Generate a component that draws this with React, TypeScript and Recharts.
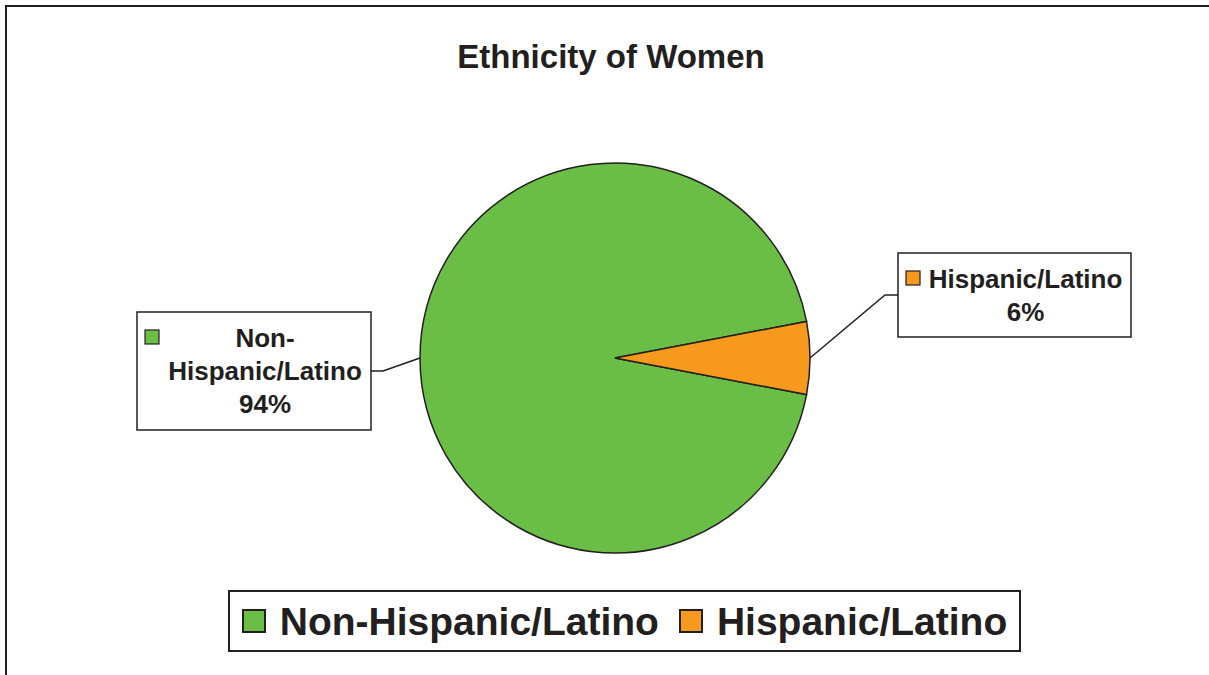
import React from 'react'
import { PieChart, Pie, Cell, Legend } from 'recharts'

const categories = ['Non-Hispanic/Latino', 'Hispanic/Latino']
const shares = [94, 6]
const sliceColors = ['#6ABD45', '#F7991C']

const chartTitle = 'Ethnicity of Women'

const INK = '#231F20'
const FONT = '"Liberation Sans", Arial, sans-serif'
const RAD = Math.PI / 180

// callout box placement, relative to the slice edge
const calloutLayout = [
  { side: 'left', elbow: [-37, 13], gap: 12, width: 234, height: 118 },
  { side: 'right', elbow: [75, -63], gap: 13, width: 233, height: 84 },
]

const data = categories.map((name, i) => ({ name, value: shares[i] }))
const total = shares.reduce((a, b) => a + b, 0)
// orange slice sits centred on 3 o'clock
const startAngle = (shares[1] / total) * 180

function wrapName(name: string) {
  if (name.length > 16 && name.includes('-')) {
    const k = name.indexOf('-') + 1
    return [name.slice(0, k), name.slice(k)]
  }
  return [name]
}

function renderCallout(props: any) {
  const { cx, cy, midAngle, outerRadius, index, name, percent } = props
  const lay = calloutLayout[index]
  const sx = cx + outerRadius * Math.cos(-midAngle * RAD)
  const sy = cy + outerRadius * Math.sin(-midAngle * RAD)
  const ex = sx + lay.elbow[0]
  const ey = sy + lay.elbow[1]
  const boxX = lay.side === 'left' ? ex - lay.gap - lay.width : ex + lay.gap
  const boxY = ey - lay.height / 2
  const edgeX = lay.side === 'left' ? boxX + lay.width : boxX
  const lines = [...wrapName(name), `${Math.round(percent * 100)}%`]
  const textX = boxX + (lay.width + 22) / 2

  return (
    <g key={`callout-${index}`}>
      <polyline
        points={`${sx},${sy} ${ex},${ey} ${edgeX},${ey}`}
        fill="none"
        stroke={INK}
        strokeWidth={1.5}
      />
      <rect x={boxX} y={boxY} width={lay.width} height={lay.height} fill="#fff" stroke={INK} strokeWidth={1.5} />
      <rect x={boxX + 8} y={boxY + 18} width={14} height={14} fill={sliceColors[index]} stroke={INK} strokeWidth={1.2} />
      {lines.map((t, i) => (
        <text
          key={i}
          x={textX}
          y={boxY + 35 + i * 33}
          textAnchor="middle"
          fontFamily={FONT}
          fontWeight="bold"
          fontSize={26}
          fill={INK}
        >
          {t}
        </text>
      ))}
    </g>
  )
}

function LegendBox() {
  return (
    <div
      style={{
        boxSizing: 'border-box',
        width: 793,
        height: 62,
        border: `2px solid ${INK}`,
        background: '#fff',
        display: 'flex',
        alignItems: 'center',
        justifyContent: 'center',
        fontFamily: FONT,
        fontWeight: 'bold',
        fontSize: 39,
        lineHeight: '39px',
        color: INK,
      }}
    >
      {categories.map((name, i) => (
        <div key={name} style={{ display: 'flex', alignItems: 'center', marginLeft: i === 0 ? 0 : 20 }}>
          <span
            style={{
              boxSizing: 'border-box',
              width: 24,
              height: 24,
              background: sliceColors[i],
              border: `2px solid ${INK}`,
              marginRight: 14,
            }}
          />
          <span>{name}</span>
        </div>
      ))}
    </div>
  )
}

export default function App() {
  return (
    <div style={{ position: 'absolute', left: 0, top: 0, width: 1209, height: 675, overflow: 'hidden', background: '#fff' }}>
      {/* chart frame, cut off at right and bottom */}
      <div
        style={{
          position: 'absolute',
          left: 5,
          top: 5,
          width: 1400,
          height: 900,
          borderLeft: `2px solid ${INK}`,
          borderTop: `2px solid ${INK}`,
        }}
      />
      <div
        style={{
          position: 'absolute',
          left: 311,
          top: 40,
          width: 600,
          textAlign: 'center',
          fontFamily: FONT,
          fontWeight: 'bold',
          fontSize: 33,
          lineHeight: '33px',
          color: INK,
        }}
      >
        {chartTitle}
      </div>
      <div style={{ position: 'absolute', left: 0, top: 0 }}>
        <PieChart width={1209} height={675} margin={{ top: 0, right: 0, bottom: 0, left: 0 }}>
          <Pie
            data={data}
            dataKey="value"
            nameKey="name"
            cx={615}
            cy={358}
            outerRadius={195}
            startAngle={startAngle}
            endAngle={startAngle + 360}
            stroke={INK}
            strokeWidth={1.5}
            label={renderCallout}
            labelLine={false}
            isAnimationActive={false}
          >
            {data.map((d, i) => (
              <Cell key={d.name} fill={sliceColors[i]} />
            ))}
          </Pie>
          <Legend
            content={() => <LegendBox />}
            wrapperStyle={{ left: 228, top: 590, width: 793, height: 62, bottom: 'auto' }}
          />
        </PieChart>
      </div>
    </div>
  )
}
